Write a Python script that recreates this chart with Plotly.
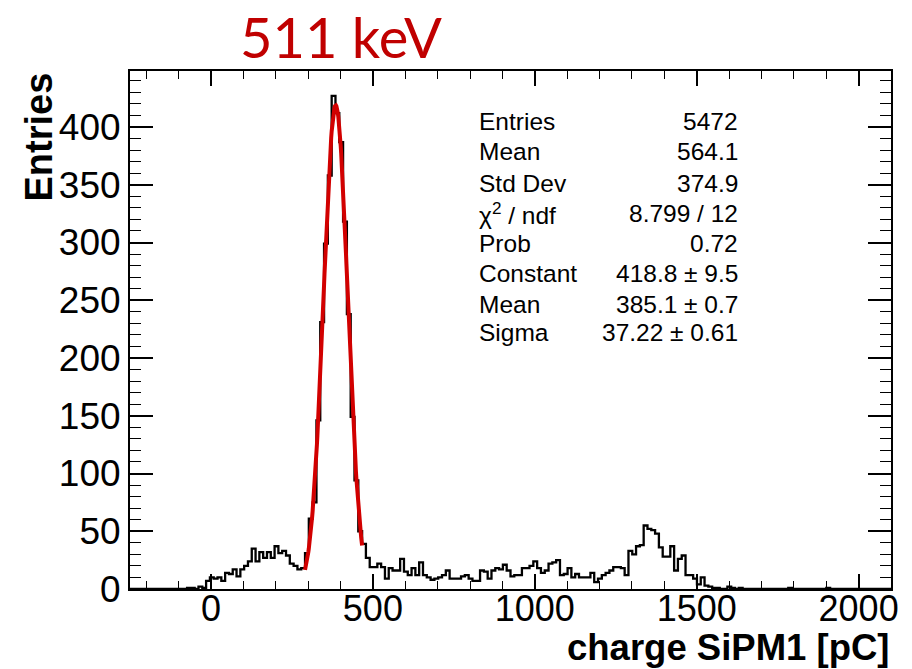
import plotly.graph_objects as go
import math

# ---------------- data ----------------
bin_low = -250.0
bin_width = 11.75
counts = (
    [0] * 15
    + [1, 1, 0, 2, 1]
    + [7, 10, 9, 10, 7, 14, 13, 17, 11, 17, 20, 24, 35, 24, 32, 27, 32, 27, 37, 31,
       33, 29, 22, 20, 17, 18]
    + [31, 61, 75, 146, 231, 299, 358, 427, 412, 387, 318, 238, 149, 94, 50]
    + [39, 27, 19, 19, 22]
    + [19, 9, 18, 16, 16, 26, 15, 12, 18, 12, 23, 12, 10, 8, 9, 10, 12, 16, 9, 9,
       9, 11, 12, 9, 7, 7, 16, 15, 9, 16, 18, 17, 21, 16, 11, 12, 12, 18, 18, 20,
       24, 18, 14, 16, 22, 23, 25, 12, 13, 18, 10, 13, 10, 10, 10, 14, 6, 9, 12, 14,
       16, 19, 19, 18, 12]
    + [33, 30, 37, 38, 55, 52, 51, 48, 36, 28, 28, 37, 16, 26, 29, 12, 12, 9, 4, 10,
       3, 2, 1, 1]
    + [0, 0, 2, 1, 0, 1, 0, 0, 0, 0, 0, 0, 0, 0, 0, 0, 0, 0, 1, 0,
       0, 0, 0, 0, 0, 0, 0, 0, 1, 0, 0, 0, 0, 0, 0, 0, 0, 0, 0, 0,
       0, 0, 0, 0, 0]
)

# Gaussian fit result (from the stats box)
fit_const = 418.8
fit_mean = 385.1
fit_sigma = 37.22
fit_range = [290.5, 466.75]

stat_labels = ["Entries", "Mean", "Std Dev", "χ<sup>2</sup> / ndf", "Prob",
               "Constant", "Mean", "Sigma"]
stat_values = ["5472", "564.1", "374.9", "8.799 / 12", "0.72",
               "418.8 ± 9.5", "385.1 ± 0.7", "37.22 ± 0.61"]

x_range = [-250, 2100]
y_range = [0, 448.5]

# ---------------- build ----------------
n = len(counts)
edges = [bin_low + bin_width * i for i in range(n + 1)]
hist_y = list(counts) + [counts[-1]]

n_fit = 120
fit_x = [fit_range[0] + (fit_range[1] - fit_range[0]) * k / n_fit for k in range(n_fit + 1)]
fit_y = [fit_const * math.exp(-0.5 * ((x - fit_mean) / fit_sigma) ** 2) for x in fit_x]

fig = go.Figure()
fig.add_trace(go.Scatter(x=edges, y=hist_y, mode="lines", line_shape="hv",
                         line=dict(color="black", width=2.3), showlegend=False,
                         hoverinfo="skip"))
fig.add_trace(go.Scatter(x=fit_x, y=fit_y, mode="lines",
                         line=dict(color="rgb(210,0,0)", width=4), showlegend=False,
                         hoverinfo="skip"))

FONT = "Liberation Sans, Arial, Helvetica, sans-serif"

fig.update_layout(
    width=912, height=669,
    margin=dict(l=130, r=21, t=71, b=80, pad=0),
    paper_bgcolor="white", plot_bgcolor="white",
    font=dict(family=FONT, color="black"),
    showlegend=False,
)

fig.update_xaxes(
    range=x_range, showgrid=False, zeroline=False,
    showline=True, linecolor="black", linewidth=2, mirror="ticks",
    ticks="inside", ticklen=15, tickwidth=1.5, tickcolor="black",
    tick0=0, dtick=500, ticklabelstandoff=-13,
    tickfont=dict(family=FONT, size=36, color="black"),
    minor=dict(ticks="inside", ticklen=8, tickwidth=1.2, tickcolor="black", dtick=100,
               tick0=0, showgrid=False),
)
fig.update_yaxes(
    range=y_range, showgrid=False, zeroline=False,
    showline=True, linecolor="black", linewidth=2, mirror="ticks",
    ticks="inside", ticklen=23, tickwidth=1.5, tickcolor="black",
    tick0=0, dtick=50,
    tickfont=dict(family=FONT, size=37, color="black"),
    minor=dict(ticks="inside", ticklen=11, tickwidth=1.2, tickcolor="black", dtick=10,
               tick0=0, showgrid=False),
)

annotations = []
# axis titles
annotations.append(dict(text="<b>Entries</b>", xref="paper", yref="paper",
                        x=(38 - 130) / 761, y=1.0, xanchor="center", yanchor="top",
                        textangle=-90, showarrow=False,
                        font=dict(family=FONT, size=38, color="black")))
annotations.append(dict(text="<b>charge SiPM1 [pC]</b>", xref="paper", yref="paper",
                        x=1.0, y=(589 - 647) / 518, xanchor="right", yanchor="middle",
                        showarrow=False,
                        font=dict(family=FONT, size=36.5, color="black")))
# top label
annotations.append(dict(text="511 keV", xref="paper", yref="paper",
                        x=(341 - 130) / 761, y=(589 - 36) / 518,
                        xanchor="center", yanchor="middle", showarrow=False,
                        font=dict(family="Lato, Carlito, Calibri, sans-serif", size=56,
                                  color="#C00000")))
# stats box
row_y = [121, 151.5, 183, 213, 243, 273, 304, 332]
for lab, val, yy in zip(stat_labels, stat_values, row_y):
    yp = (589 - yy) / 518
    annotations.append(dict(text=lab, xref="paper", yref="paper",
                            x=(477 - 130) / 761, y=yp, xanchor="left", yanchor="middle",
                            showarrow=False, font=dict(family=FONT, size=24.5, color="black")))
    annotations.append(dict(text=val, xref="paper", yref="paper",
                            x=(740 - 130) / 761, y=yp, xanchor="right", yanchor="middle",
                            showarrow=False, font=dict(family=FONT, size=24.5, color="black")))
fig.update_layout(annotations=annotations)

fig.write_html("out.html")
